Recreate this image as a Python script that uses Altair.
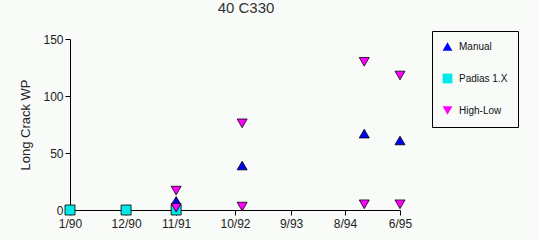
import altair as alt
import pandas as pd

series_names = ["Manual", "Padias 1.X", "High-Low"]
series_colors = ["#0000ff", "#00e8e8", "#ff00ff"]
series_shapes = ["triangle-up", "square", "triangle-down"]

tick_pos = [0, 1.02, 1.93, 3.0, 4.02, 5.0, 6.0]
tick_labels = ["1/90", "12/90", "11/91", "10/92", "9/93", "8/94", "6/95"]

manual_x = [1.93, 3.13, 5.35, 6.0]
manual_y = [8, 39, 67, 61]
padias_x = [0, 1.02, 1.93]
padias_y = [0, 0, 0]
highlow_x = [1.93, 1.93, 3.13, 3.13, 5.35, 5.35, 6.0, 6.0]
highlow_y = [17, 2, 76, 3, 130, 5, 118, 5]

rows = []
for name, xs, ys in [("Manual", manual_x, manual_y),
                     ("Padias 1.X", padias_x, padias_y),
                     ("High-Low", highlow_x, highlow_y)]:
    for xv, yv in zip(xs, ys):
        rows.append({"series": name, "x": xv, "y": yv})
df = pd.DataFrame(rows)

label_expr = "[" + ",".join("'%s'" % t for t in tick_labels) + "][indexof([" + ",".join(str(p) for p in tick_pos) + "], datum.value)]"

FONT = "Liberation Sans"
BG = "#f8fbf8"

legend = alt.Legend(
    title=None, orient="none", legendX=362, legendY=-8,
    strokeColor="black", fillColor=BG, padding=10, rowPadding=19,
    labelFontSize=10, labelFont=FONT, labelColor="#111111", labelOffset=6,
    symbolSize=95, symbolStrokeColor="black", symbolStrokeWidth=0.8,
)

chart = alt.Chart(df).mark_point(
    filled=True, stroke="black", strokeWidth=0.8, opacity=1
).encode(
    x=alt.X("x:Q", scale=alt.Scale(domain=[0, 6], nice=False, zero=False),
            axis=alt.Axis(values=tick_pos, labelExpr=label_expr, title=None, grid=False,
                          domainColor="black", tickColor="black", tickSize=5,
                          labelFontSize=12, labelFont=FONT, labelColor="#222222",
                          labelPadding=3, labelFlush=False)),
    y=alt.Y("y:Q", scale=alt.Scale(domain=[0, 150], nice=False),
            axis=alt.Axis(values=[0, 50, 100, 150], title="Long Crack WP", grid=False,
                          domainColor="black", tickColor="black", tickSize=5,
                          labelFontSize=12, labelFont=FONT, labelColor="#222222",
                          labelPadding=2, titleFontSize=13, titleFont=FONT,
                          titleFontWeight="normal", titleColor="#222222", titlePadding=10)),
    fill=alt.Fill("series:N", scale=alt.Scale(domain=series_names, range=series_colors), legend=legend),
    shape=alt.Shape("series:N", scale=alt.Scale(domain=series_names, range=series_shapes), legend=legend),
    size=alt.value(100),
).properties(
    width=330, height=171,
    title=alt.TitleParams("40 C330", fontSize=15, fontWeight="normal", font=FONT,
                          color="#333333", dx=11, offset=15),
    autosize=alt.AutoSizeParams(type="none"),
    padding={"left": 70, "top": 39, "right": 139, "bottom": 30},
    background=BG,
).configure_view(stroke=None)

chart.save("out.html", embed_options={"renderer": "svg", "actions": False})
